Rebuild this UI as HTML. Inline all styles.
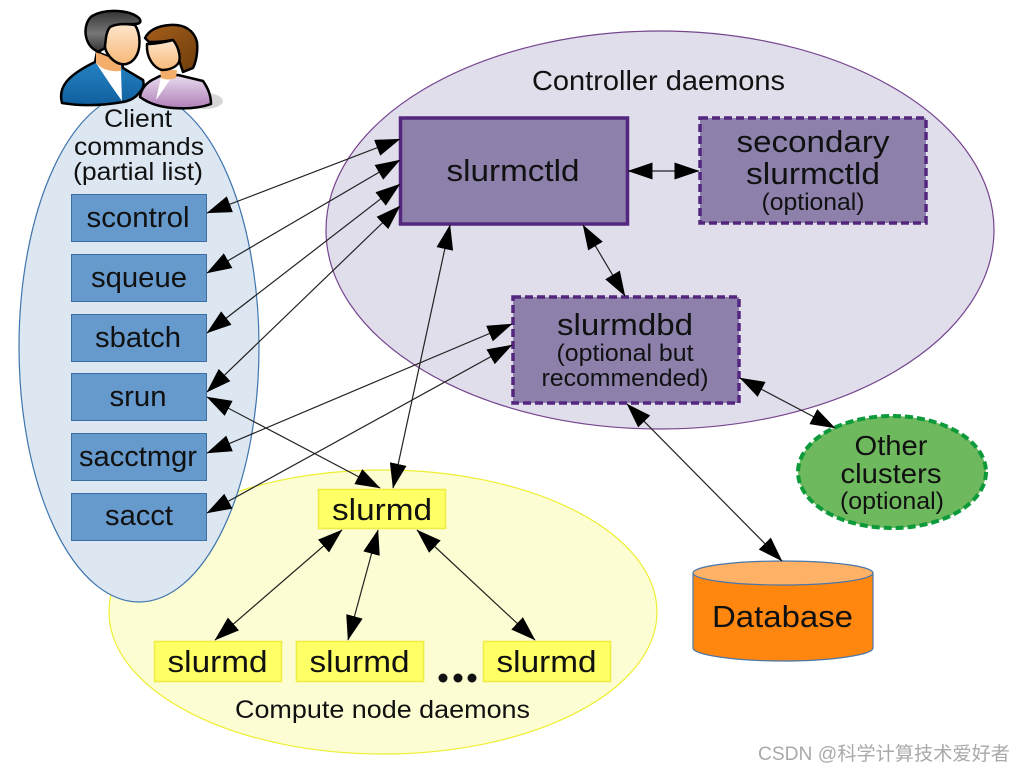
<!DOCTYPE html>
<html><head><meta charset="utf-8">
<style>html,body{margin:0;padding:0;background:#fff}svg{display:block}text{font-family:"Liberation Sans",sans-serif;fill:#111;text-anchor:middle}</style>
</head><body>
<svg width="1013" height="771" viewBox="0 0 1013 771" xmlns="http://www.w3.org/2000/svg">
<defs>
<marker id="a" viewBox="0 0 25 17" refX="24.500" refY="8.500" markerWidth="25" markerHeight="17" markerUnits="userSpaceOnUse" orient="auto-start-reverse"><path d="M0 0L25 8.500L0 17Z" fill="#000"/></marker>
<linearGradient id="blue" x1="0" y1="0" x2="0" y2="1"><stop offset="0" stop-color="#2a8ccb"/><stop offset="1" stop-color="#105f9f"/></linearGradient>
<linearGradient id="pur" x1="0" y1="0" x2="0" y2="1"><stop offset="0" stop-color="#e8dcef"/><stop offset="1" stop-color="#b07fb8"/></linearGradient>
<linearGradient id="hair" x1="0" y1="0" x2="0" y2="1"><stop offset="0" stop-color="#333"/><stop offset=".55" stop-color="#777"/><stop offset="1" stop-color="#333"/></linearGradient>
<linearGradient id="skin" x1="0" y1="0" x2="0" y2="1"><stop offset="0" stop-color="#fde6cc"/><stop offset="1" stop-color="#f7b878"/></linearGradient>
<linearGradient id="brown" x1="0" y1="0" x2="1" y2="1"><stop offset="0" stop-color="#a55f1c"/><stop offset="1" stop-color="#6f3d0c"/></linearGradient>
</defs>
<ellipse cx="383" cy="612" rx="274" ry="142" fill="#fdfdd3" stroke="#eeee33" stroke-width="1.200"/>
<ellipse cx="660" cy="230" rx="334" ry="199" fill="#e0deea" stroke="#76468f" stroke-width="1.200"/>
<ellipse cx="139" cy="347" rx="120" ry="255" fill="#dde7f2" stroke="#3f75ad" stroke-width="1.200"/>
<ellipse cx="205" cy="101" rx="18" ry="8" fill="#ccc" opacity=".8"/>
<g stroke="#000" stroke-width="2.500" stroke-linejoin="round">
<path d="M62 103C58 88 66 76 95 62L97 52L122 62L123 68L143 80C146 88 136 100 123 102C100 106 80 106 62 103Z" fill="url(#blue)"/>
<path d="M96 63L121 71L122 101L110 84Z" fill="#fff" stroke="none"/>
<path d="M96 52L121 62L121 71C112 72 102 70 96 63Z" fill="#f4ae6c" stroke="none"/>
<path d="M95 50C84 44 82 24 92 16C106 8 130 10 139 18C142 22 140 24 134 24C124 24 114 24 110 28C106 34 106 40 105 48L98 52Z" fill="url(#hair)"/>
<path d="M110 27C118 23 128 24 135 25C141 34 141 50 135 58C129 66 120 66 113 60C108 56 105 50 105 46C106 38 106 32 110 27Z" fill="url(#skin)"/>
<path d="M140 97C141 90 145 84 152 80L160 76L178 75L203 81C208 88 211 96 211 104C200 108 186 109 173 108C160 107 148 103 140 97Z" fill="url(#pur)"/>
<path d="M161 77L172 77L156 100Z" fill="#fff" stroke="none"/>
<path d="M160 70L177 70L176 78C170 80 165 80 161 78Z" fill="#f4ae6c" stroke="none"/>
<path d="M145 38C149 30 157 26 170 25C184 24 194 30 197 42C198 52 196 62 193 68L183 72L179 60C177 50 175 44 172 40C164 42 155 42 149 42Z" fill="url(#brown)"/>
<path d="M147 44C155 44 165 42 173 40C178 46 181 56 179 62C176 68 168 70 162 70C154 68 146 58 147 44Z" fill="url(#skin)"/>
</g>
<rect x="400.500" y="118" width="227" height="106" fill="#8d81ac" stroke="#54277f" stroke-width="3.500"/>
<rect x="700" y="118" width="226" height="105" fill="#8d81ac" stroke="#54277f" stroke-width="3.500" stroke-dasharray="8 4"/>
<rect x="513" y="297" width="226" height="106" fill="#8d81ac" stroke="#54277f" stroke-width="3.500" stroke-dasharray="8 4"/>
<ellipse cx="892" cy="472" rx="94" ry="56" fill="#6eb85e" stroke="#0c9a3a" stroke-width="4" stroke-dasharray="8 4"/>
<path d="M693 573V648C693 655 735 661 783 661C831 661 873 655 873 648V573Z" fill="#ff870f" stroke="#4a76a8" stroke-width="1.200"/>
<ellipse cx="783" cy="573" rx="90" ry="12" fill="#ffb266" stroke="#4a76a8" stroke-width="1.200"/>
<g fill="#6699cc" stroke="#3a6ea5" stroke-width="1">
<rect x="71.500" y="194.500" width="135" height="47"/>
<rect x="71.500" y="254.500" width="135" height="47"/>
<rect x="71.500" y="314.500" width="135" height="47"/>
<rect x="71.500" y="373.500" width="135" height="47"/>
<rect x="71.500" y="433.500" width="135" height="47"/>
<rect x="71.500" y="493.500" width="135" height="47"/>
</g>
<g fill="#ffff66" stroke="#eeee44" stroke-width="1.600">
<rect x="318.500" y="489.500" width="127" height="39"/>
<rect x="154.500" y="641.500" width="127" height="40"/>
<rect x="296.500" y="641.500" width="127" height="40"/>
<rect x="483.500" y="641.500" width="127" height="40"/>
</g>
<g stroke="#222" stroke-width="1.200" fill="none">
<line x1="207" y1="213" x2="400" y2="139" marker-start="url(#a)" marker-end="url(#a)"/>
<line x1="207" y1="273" x2="400" y2="160" marker-start="url(#a)" marker-end="url(#a)"/>
<line x1="207" y1="333" x2="400" y2="184" marker-start="url(#a)" marker-end="url(#a)"/>
<line x1="207" y1="392" x2="400" y2="206" marker-start="url(#a)" marker-end="url(#a)"/>
<line x1="207" y1="453" x2="512" y2="324" marker-start="url(#a)" marker-end="url(#a)"/>
<line x1="207" y1="513" x2="512" y2="345" marker-start="url(#a)" marker-end="url(#a)"/>
<line x1="207" y1="397" x2="380" y2="488" marker-start="url(#a)" marker-end="url(#a)"/>
<line x1="450" y1="225" x2="393" y2="488" marker-start="url(#a)" marker-end="url(#a)"/>
<line x1="628" y1="171" x2="699" y2="171" marker-start="url(#a)" marker-end="url(#a)"/>
<line x1="583" y1="225" x2="625" y2="296" marker-start="url(#a)" marker-end="url(#a)"/>
<line x1="740" y1="378" x2="835" y2="428" marker-start="url(#a)" marker-end="url(#a)"/>
<line x1="627" y1="404" x2="782" y2="561" marker-start="url(#a)" marker-end="url(#a)"/>
<line x1="342" y1="530" x2="215" y2="640" marker-start="url(#a)" marker-end="url(#a)"/>
<line x1="378" y1="530" x2="348" y2="640" marker-start="url(#a)" marker-end="url(#a)"/>
<line x1="417" y1="530" x2="535" y2="640" marker-start="url(#a)" marker-end="url(#a)"/>
</g>
<circle cx="443" cy="678" r="4.500" fill="#111"/><circle cx="458" cy="678" r="4.500" fill="#111"/><circle cx="472" cy="678" r="4.500" fill="#111"/>
<g font-size="25">
<text x="138" y="127" textLength="68" lengthAdjust="spacingAndGlyphs">Client</text>
<text x="139" y="155" textLength="130" lengthAdjust="spacingAndGlyphs">commands</text>
<text x="138" y="180" textLength="130" lengthAdjust="spacingAndGlyphs">(partial list)</text>
</g>
<g font-size="28.500">
<text x="138" y="227" textLength="103" lengthAdjust="spacingAndGlyphs">scontrol</text>
<text x="139" y="287" textLength="96" lengthAdjust="spacingAndGlyphs">squeue</text>
<text x="138" y="347" textLength="86" lengthAdjust="spacingAndGlyphs">sbatch</text>
<text x="138" y="406" textLength="57" lengthAdjust="spacingAndGlyphs">srun</text>
<text x="138" y="466" textLength="118" lengthAdjust="spacingAndGlyphs">sacctmgr</text>
<text x="139" y="525" textLength="68" lengthAdjust="spacingAndGlyphs">sacct</text>
</g>
<text x="658.500" y="90" font-size="27.500" textLength="253" lengthAdjust="spacingAndGlyphs">Controller daemons</text>
<text x="513" y="181" font-size="31" textLength="133" lengthAdjust="spacingAndGlyphs">slurmctld</text>
<text x="813" y="152" font-size="31" textLength="153" lengthAdjust="spacingAndGlyphs">secondary</text>
<text x="813" y="184" font-size="31" textLength="134" lengthAdjust="spacingAndGlyphs">slurmctld</text>
<text x="813" y="210" font-size="24" textLength="103" lengthAdjust="spacingAndGlyphs">(optional)</text>
<text x="625" y="335" font-size="31" textLength="136" lengthAdjust="spacingAndGlyphs">slurmdbd</text>
<text x="625" y="361" font-size="24" textLength="137" lengthAdjust="spacingAndGlyphs">(optional but</text>
<text x="625" y="386" font-size="24" textLength="167" lengthAdjust="spacingAndGlyphs">recommended)</text>
<text x="891" y="455" font-size="27.500" textLength="73" lengthAdjust="spacingAndGlyphs">Other</text>
<text x="891" y="483" font-size="27.500" textLength="101" lengthAdjust="spacingAndGlyphs">clusters</text>
<text x="892" y="509" font-size="24" textLength="104" lengthAdjust="spacingAndGlyphs">(optional)</text>
<text x="782.500" y="627" font-size="31" textLength="141" lengthAdjust="spacingAndGlyphs">Database</text>
<g font-size="31">
<text x="382" y="520" textLength="100" lengthAdjust="spacingAndGlyphs">slurmd</text>
<text x="217.500" y="672" textLength="100" lengthAdjust="spacingAndGlyphs">slurmd</text>
<text x="359.500" y="672" textLength="100" lengthAdjust="spacingAndGlyphs">slurmd</text>
<text x="546.500" y="672" textLength="100" lengthAdjust="spacingAndGlyphs">slurmd</text>
</g>
<text x="382.500" y="718" font-size="25" textLength="295" lengthAdjust="spacingAndGlyphs">Compute node daemons</text>
<text x="884" y="760" font-size="19" textLength="252" lengthAdjust="spacingAndGlyphs" style="font-family:'Liberation Sans','Noto Sans CJK SC',sans-serif;fill:#a9a9a9">CSDN @科学计算技术爱好者</text>
</svg>
</body></html>
